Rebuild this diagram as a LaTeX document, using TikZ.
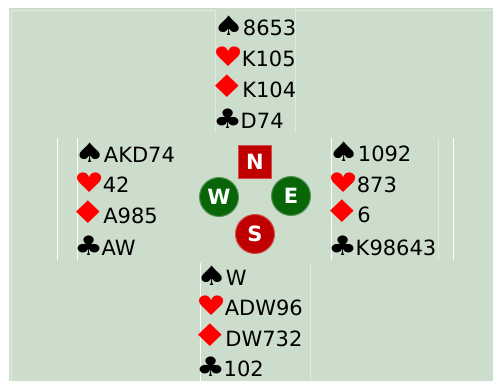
\documentclass[tikz,border=0pt]{standalone}
\usepackage{fontspec}
\setmainfont{DejaVu Sans}
\usetikzlibrary{positioning}
\definecolor{felt}{RGB}{205,221,203}
\definecolor{suitred}{RGB}{255,0,0}
\definecolor{seatred}{RGB}{192,0,0}
\definecolor{seatgreen}{RGB}{8,102,8}
\newcommand{\spd}{{\fontsize{24}{24}\selectfont\kern-5pt\scalebox{1.45}[1.12]{♠}\kern-1.5pt}}
\newcommand{\hrt}{{\color{suitred}\fontsize{24}{24}\selectfont\kern-5pt\scalebox{1.4}[1.12]{♥}\kern-1.5pt}}
\newcommand{\dmd}{{\color{suitred}\fontsize{24}{24}\selectfont\kern-10pt\scalebox{1.75}[1.3]{♦}\kern-3.5pt}}
\newcommand{\clb}{{\fontsize{24}{24}\selectfont\kern-5pt\scalebox{1.35}[1.12]{♣}\kern-1.5pt}}
\tikzset{
  cards/.style={anchor=base west, inner sep=0pt, font=\fontsize{21}{21}\selectfont},
  seat/.style={circle, draw=#1!70!white, fill=#1, line width=1pt, minimum size=39pt,
    inner sep=0pt, text=white, font=\bfseries\fontsize{21}{21}\selectfont},
  rule/.style={white, line width=1pt},
  faint/.style={white, opacity=0.4, line width=1pt}
}

\begin{document}
\begin{tikzpicture}[x=1pt, y=-1pt]
  \useasboundingbox (0,0) rectangle (493,381);
  \fill[felt] (9,8) rectangle (493,381);
  % table borders
  \draw[faint] (11,381) -- (11,10) -- (215,10);
  \draw[faint] (295,10) -- (493,10);
  \draw[faint] (215,10) -- (215,133);
  \draw[faint] (295,10) -- (295,133);
  \draw[rule] (57,138) -- (57,260);
  \draw[rule] (77,138) -- (77,260);
  \draw[rule] (331,138) -- (331,260);
  \draw[faint] (438,138) -- (438,260);
  \draw[rule] (453,138) -- (453,260);
  \draw[rule] (200,263) -- (200,381);
  \draw[faint] (310,263) -- (310,381);

  % north
  \node[cards] (n1) at (218,35)  {\spd 8653};
  \node[cards] (n2) at (218,66)  {\hrt K105};
  \node[cards] (n3) at (218,97)  {\dmd K104};
  \node[cards] (n4) at (218,128) {\clb D74};
  % west
  \node[cards] (w1) at (79,162) {\spd AKD74};
  \node[cards] (w2) at (79,192) {\hrt 42};
  \node[cards] (w3) at (79,223) {\dmd A985};
  \node[cards] (w4) at (79,255) {\clb AW};
  % east
  \node[cards] (e1) at (333,161) {\spd 1092};
  \node[cards] (e2) at (333,192) {\hrt 873};
  \node[cards] (e3) at (333,222) {\dmd 6};
  \node[cards] (e4) at (333,255) {\clb K98643};
  % south
  \node[cards] (s1) at (201,285) {\spd W};
  \node[cards] (s2) at (201,315) {\hrt ADW96};
  \node[cards] (s3) at (201,346) {\dmd DW732};
  \node[cards] (s4) at (201,376) {\clb 102};

  % compass
  \node[seat=seatred, rectangle, minimum size=33pt] (N) at (255,162) {N};
  \node[seat=seatgreen] (W) at (219,197) {W};
  \node[seat=seatgreen] (E) at (291,196) {E};
  \node[seat=seatred] (S) at (255,234) {S};
\end{tikzpicture}
\end{document}
